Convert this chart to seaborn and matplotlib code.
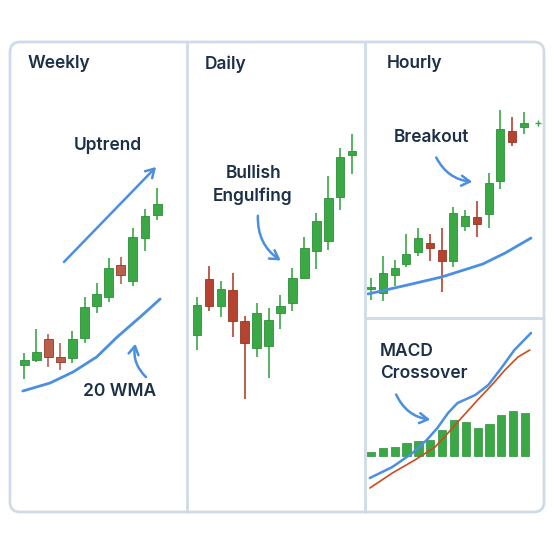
import matplotlib
matplotlib.use('Agg')
import matplotlib.pyplot as plt
from matplotlib.patches import FancyBboxPatch
import numpy as np
import pandas as pd
import seaborn as sns

# ---- data ----
weekly_open  = [147, 152, 173, 155, 154, 174, 206, 215, 247, 231, 274, 297]
weekly_high  = [159, 183, 178, 169, 181, 215, 229, 254, 255, 284, 303, 324]
weekly_low   = [133, 150, 145, 142, 149, 169, 199, 210, 228, 226, 261, 292]
weekly_close = [152, 160, 155, 150, 173, 205, 218, 244, 237, 275, 296, 308]
weekly_wma_x = [-0.1, 2.15, 4.05, 6.0, 7.7, 9.6, 11.25]
weekly_wma   = [121, 129, 140, 155, 175, 195, 213]

daily_open  = [177, 233, 206, 222, 191, 164, 166, 199, 209, 234, 261, 271, 315, 357]
daily_high  = [215, 246, 231, 239, 196, 209, 204, 217, 244, 275, 299, 336, 364, 378]
daily_low   = [162, 201, 195, 175, 113, 155, 134, 183, 201, 233, 243, 262, 302, 338]
daily_close = [207, 206, 223, 191, 169, 199, 192, 206, 234, 264, 291, 314, 355, 361]

hourly_open  = [223, 219, 237, 248, 260, 269, 262, 251, 286, 295, 298, 331, 381, 385]
hourly_high  = [234, 256, 252, 278, 284, 278, 284, 305, 302, 311, 339, 402, 395, 400]
hourly_low   = [212, 211, 226, 245, 256, 251, 220, 245, 281, 275, 284, 323, 366, 378]
hourly_close = [225, 239, 244, 258, 274, 264, 251, 299, 296, 288, 329, 383, 370, 389]
hourly_wma_x = [-0.25, 3.1, 6.0, 9.5, 11.4, 13.6]
hourly_wma   = [218, 227, 235, 248, 259, 274]

macd_hist   = [4, 8, 9, 13, 15, 16, 26, 36, 34, 28, 32, 41, 45, 43]
macd_x      = [-0.1, 1.8, 3.5, 4.7, 5.6, 6.5, 7.3, 8.8, 9.9, 11.0, 12.1, 13.5]
macd_line   = [-22, -11, 3, 16, 28, 43, 53, 61, 71, 88, 106, 123]
signal_x    = [-0.1, 1.8, 3.7, 5.4, 6.5, 7.7, 9.0, 10.2, 11.3, 12.4, 13.4]
signal_line = [-32, -17, -4, 9, 23, 39, 56, 71, 86, 99, 106]

GREEN, GREEN_E = '#3aa845', '#2e8f39'
RED_W, RED, RED_E = '#b8604c', '#b5432f', '#963626'
BLUE, ORANGE = '#4a8fe0', '#d04a1c'
INK, FRAME = '#1c3048', '#cfdbe6'

sns.set_theme(style='white')
plt.rcParams['font.family'] = ['Inter', 'DejaVu Sans']

W = 554
fig = plt.figure(figsize=(5.54, 5.54), dpi=100)


def box(x0, y0, x1, y1):
    return [x0 / W, (W - y1) / W, (x1 - x0) / W, (y1 - y0) / W]


def panel(rect, xlim, ylim):
    ax = fig.add_axes(rect)
    ax.patch.set_alpha(0)
    ax.set_xlim(*xlim); ax.set_ylim(*ylim)
    ax.axis('off')
    return ax


def candles(ax, o, h, l, c, width, down):
    df = pd.DataFrame(dict(o=o, h=h, l=l, c=c))
    df['x'] = np.arange(len(df))
    up = df.c >= df.o
    col = np.where(up, GREEN, down)
    ecol = np.where(up, GREEN_E, RED_E)
    ax.vlines(df.x, df.l, df.h, colors=col, lw=1.2, zorder=1)
    ax.bar(df.x, np.maximum((df.c - df.o).abs(), 2), width, bottom=np.minimum(df.o, df.c),
           color=col, edgecolor=ecol, lw=0.6, zorder=2)


# weekly
axw = panel(box(10, 42, 187, 512), (-1.16, 13.47), (0, 470))
candles(axw, weekly_open, weekly_high, weekly_low, weekly_close, 0.74, RED_W)
sns.lineplot(x=weekly_wma_x, y=weekly_wma, ax=axw, color=BLUE, lw=2, sort=False)
axw.set_xlim(-1.16, 13.47); axw.set_ylim(0, 470)

# daily
axd = panel(box(187, 42, 365, 512), (-0.84, 14.09), (0, 470))
candles(axd, daily_open, daily_high, daily_low, daily_close, 0.73, RED)

# hourly
axh = panel(box(365, 42, 544, 318), (-0.51, 14.7), (194, 470))
candles(axh, hourly_open, hourly_high, hourly_low, hourly_close, 0.68, RED)
sns.lineplot(x=hourly_wma_x, y=hourly_wma, ax=axh, color=BLUE, lw=2, sort=False)
axh.scatter([14.2], [hourly_close[-1]], marker='+', s=18, color=GREEN, lw=1)
axh.set_xlim(-0.51, 14.7); axh.set_ylim(194, 470)

# macd
axm = panel(box(365, 318, 544, 512), (-0.51, 14.6), (-56, 138))
sns.barplot(x=np.arange(len(macd_hist)), y=macd_hist, ax=axm, native_scale=True,
            color=GREEN, saturation=1, width=0.7, edgecolor=GREEN_E, lw=0.5)
sns.lineplot(x=macd_x, y=macd_line, ax=axm, color=BLUE, lw=1.8, sort=False)
sns.lineplot(x=signal_x, y=signal_line, ax=axm, color=ORANGE, lw=1.2, sort=False)
axm.set_xlim(-0.51, 14.6); axm.set_ylim(-56, 138)
axm.axis('off')

# overlay: frame, titles, annotations (pixel coords)
ov = fig.add_axes([0, 0, 1, 1])
ov.set_zorder(10); ov.patch.set_alpha(0)
ov.set_xlim(0, W); ov.set_ylim(W, 0); ov.axis('off')
ov.add_patch(FancyBboxPatch((10, 42), 534, 470, boxstyle='round,pad=0,rounding_size=10',
                            fc='none', ec=FRAME, lw=2))
ov.plot([187, 187], [42, 512], color=FRAME, lw=2)
ov.plot([365, 365], [42, 512], color=FRAME, lw=2)
ov.plot([365, 544], [318, 318], color=FRAME, lw=2)

tk = dict(color=INK, fontsize=12.5, fontweight='semibold', va='center')
for x, t in [(28, 'Weekly'), (205, 'Daily'), (387, 'Hourly')]:
    ov.text(x, 64, t, ha='left', **tk)
ov.text(108, 146, 'Uptrend', ha='center', **tk)
ov.text(120, 391, '20 WMA', ha='center', **tk)
ov.text(254, 173, 'Bullish', ha='center', **tk)
ov.text(253, 196, 'Engulfing', ha='center', **tk)
ov.text(431, 138, 'Breakout', ha='center', **tk)
ov.text(380, 352, 'MACD', ha='left', **tk)
ov.text(380, 374, 'Crossover', ha='left', **tk)

arr = dict(arrowstyle='->,head_length=0.5,head_width=0.3', color=BLUE, lw=1.8)
ov.annotate('', xy=(158, 165), xytext=(62, 264), arrowprops=arr)
ov.annotate('', xy=(136, 341), xytext=(148, 379), arrowprops=dict(arr, connectionstyle='arc3,rad=-0.3'))
ov.annotate('', xy=(283, 262), xytext=(258, 213), arrowprops=dict(arr, connectionstyle='arc3,rad=0.3'))
ov.annotate('', xy=(475, 182), xytext=(435, 155), arrowprops=dict(arr, connectionstyle='arc3,rad=0.3'))
ov.annotate('', xy=(433, 420), xytext=(395, 392), arrowprops=dict(arr, connectionstyle='arc3,rad=0.3'))

fig.savefig('out.png', dpi=100, facecolor='white')
